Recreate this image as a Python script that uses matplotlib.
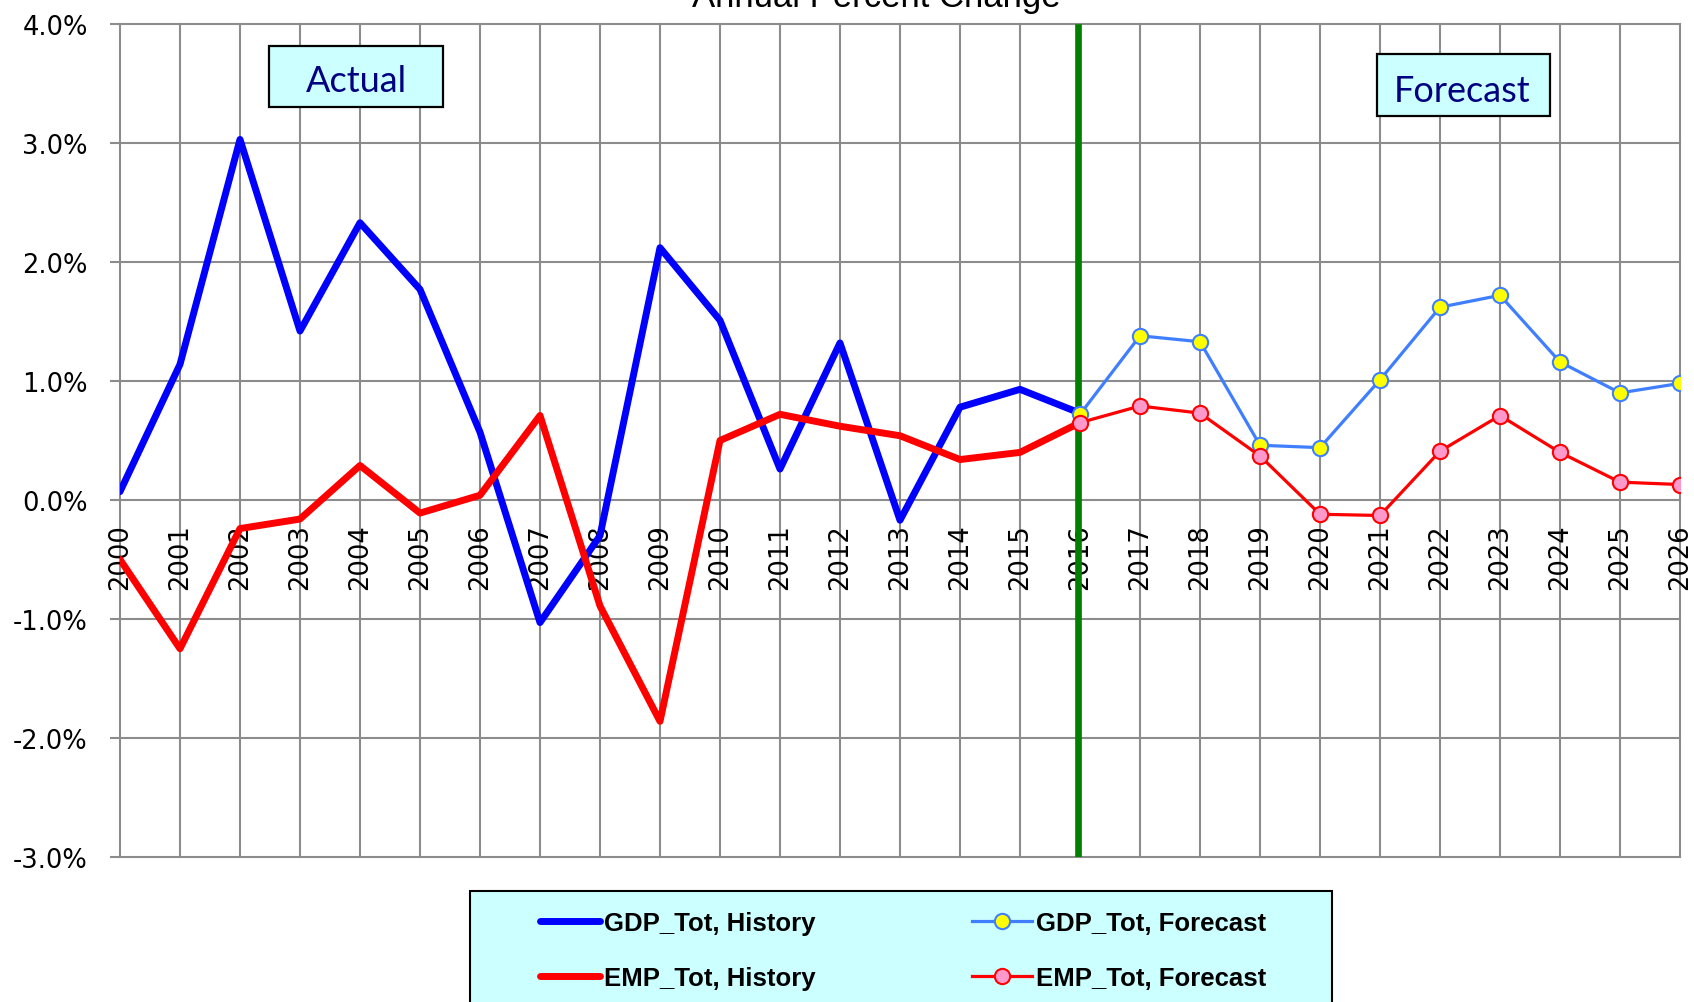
import matplotlib
matplotlib.use("Agg")
import matplotlib.pyplot as plt
from matplotlib.patches import Rectangle

# ---- data ----
years_hist = [2000, 2001, 2002, 2003, 2004, 2005, 2006, 2007, 2008,
              2009, 2010, 2011, 2012, 2013, 2014, 2015, 2016]
gdp_hist = [0.07, 1.14, 3.03, 1.42, 2.33, 1.77, 0.57, -1.03, -0.30,
            2.12, 1.51, 0.26, 1.32, -0.17, 0.78, 0.93, 0.73]
emp_hist = [-0.50, -1.25, -0.24, -0.16, 0.29, -0.11, 0.04, 0.71, -0.89,
            -1.86, 0.50, 0.72, 0.62, 0.54, 0.34, 0.40, 0.65]

years_fc = [2016, 2017, 2018, 2019, 2020, 2021, 2022, 2023, 2024, 2025, 2026]
gdp_fc = [0.72, 1.38, 1.33, 0.46, 0.44, 1.01, 1.62, 1.72, 1.16, 0.90, 0.98]
emp_fc = [0.65, 0.79, 0.73, 0.37, -0.12, -0.13, 0.41, 0.71, 0.40, 0.15, 0.13]

x_ticks = [2000, 2001, 2002, 2003, 2004, 2005, 2006, 2007, 2008, 2009,
           2010, 2011, 2012, 2013, 2014, 2015, 2016, 2017, 2018, 2019,
           2020, 2021, 2022, 2023, 2024, 2025, 2026]
y_ticks = [-3, -2, -1, 0, 1, 2, 3, 4]
y_labels = ["-3.0%", "-2.0%", "-1.0%", "0.0%", "1.0%", "2.0%", "3.0%", "4.0%"]
divider_year = 2015.96

title = "Annual Percent Change"
labels = ["GDP_Tot, History", "EMP_Tot, History",
          "GDP_Tot, Forecast", "EMP_Tot, Forecast"]

W, H = 1694, 1003
fig = plt.figure(figsize=(W / 100, H / 100), dpi=100)
fig.patch.set_facecolor("white")
ax = fig.add_axes([120 / W, 1 - 858 / H, 1560 / W, 833 / H])
ax.set_xlim(2000, 2026)
ax.set_ylim(-3, 4)
ax.set_axisbelow(True)

for s in ["top", "right", "left"]:
    ax.spines[s].set_visible(False)
ax.spines["bottom"].set_position(("data", 0))
ax.spines["bottom"].set_color("none")

grid_c = "#8c8c8c"
ax.set_xticks(x_ticks)
ax.set_xticklabels([str(y) for y in x_ticks], rotation=90,
                   fontsize=18.5, family="DejaVu Sans", va="top", ha="center")
ax.set_yticks(y_ticks)
ax.set_yticklabels(y_labels, fontsize=18.5, family="DejaVu Sans")
ax.grid(True, color=grid_c, lw=1.5)
for gl in ax.get_xgridlines() + ax.get_ygridlines():
    gl.set_clip_on(False)
ax.tick_params(axis="x", length=0, pad=17)
ax.tick_params(axis="y", length=7.2, width=1.5, color=grid_c, pad=16)

# divider
ax.axvline(divider_year, ymin=0, ymax=0.996, color="#008000", lw=4.8, zorder=2)

l1, = ax.plot(years_hist, gdp_hist, color="#0000FF", lw=5, zorder=3,
              solid_capstyle="round", solid_joinstyle="round")
l2, = ax.plot(years_hist, emp_hist, color="#FF0000", lw=5, zorder=4,
              solid_capstyle="round", solid_joinstyle="round")
l3, = ax.plot(years_fc, gdp_fc, color="#3F7FFF", lw=2.3, zorder=5,
              marker="o", ms=11, mfc="#FFFF00", mec="#3F7FFF", mew=1.5)
l4, = ax.plot(years_fc, emp_fc, color="#FF0000", lw=2.3, zorder=6,
              marker="o", ms=11, mfc="#FF99CC", mec="#FF0000", mew=1.5)

# Actual / Forecast boxes
def tbox(x0, y0, w, h, xc, yb, txt):
    ax.add_patch(Rectangle((x0, y0), w, h, transform=ax.transAxes,
                           facecolor="#CCFFFF", edgecolor="black", lw=1.6,
                           zorder=7, clip_on=False))
    ax.text(xc, yb, txt, transform=ax.transAxes, ha="center", va="baseline",
            fontsize=26, family="Lato", color="#000080", zorder=8)

tbox(0.0955, 0.9004, 0.1115, 0.0732, 0.1513, 0.9196, "Actual")
tbox(0.8058, 0.8896, 0.1109, 0.0744, 0.8606, 0.9076, "Forecast")

# title (partially cut at top)
fig.text(876 / W, 1 - 7 / H, title, ha="center", va="baseline",
         fontsize=25, family="Liberation Sans")

# legend frame
fig.patches.append(Rectangle((470 / W, -0.05), 862 / W, 0.05 + (1 - 892 / H),
                             transform=fig.transFigure, facecolor="#CCFFFF",
                             edgecolor="black", lw=1.5, zorder=1))
lfont = {"family": "Liberation Sans", "weight": "bold", "size": 18.5}
for hs, labs, xa in [([l1, l2], labels[:2], 540), ([l3, l4], labels[2:], 972)]:
    fig.legend(hs, labs, loc="upper left",
               bbox_to_anchor=(xa / W, 1 - 912 / H), frameon=False,
               borderpad=0, handlelength=2.33, handletextpad=0.16,
               labelspacing=1.2, prop=lfont, borderaxespad=0)

fig.savefig("out.png", dpi=100)
